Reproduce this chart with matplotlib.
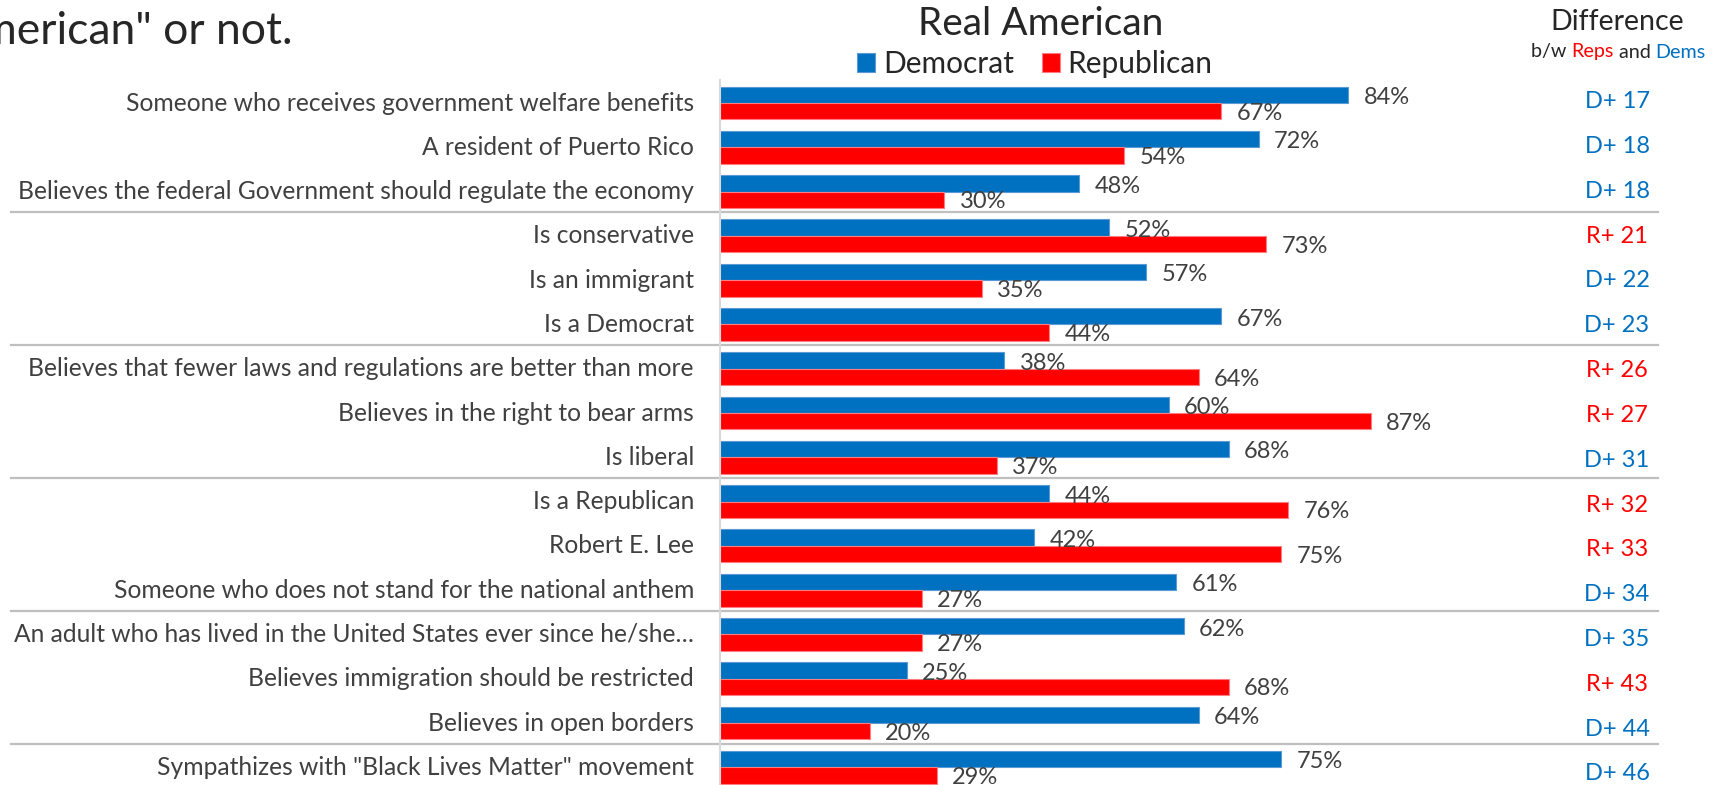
import matplotlib
matplotlib.use("Agg")
import matplotlib.pyplot as plt
from matplotlib.transforms import blended_transform_factory
import numpy as np

plt.rcParams['font.family'] = ['Lato', 'DejaVu Sans']

categories = [
    "Someone who receives government welfare benefits",
    "A resident of Puerto Rico",
    "Believes the federal Government should regulate the economy",
    "Is conservative",
    "Is an immigrant",
    "Is a Democrat",
    "Believes that fewer laws and regulations are better than more",
    "Believes in the right to bear arms",
    "Is liberal",
    "Is a Republican",
    "Robert E. Lee",
    "Someone who does not stand for the national anthem",
    "An adult who has lived in the United States ever since he/she\u2026",
    "Believes immigration should be restricted",
    "Believes in open borders",
    "Sympathizes with \"Black Lives Matter\" movement",
]
democrat = [84, 72, 48, 52, 57, 67, 38, 60, 68, 44, 42, 61, 62, 25, 64, 75]
republican = [67, 54, 30, 73, 35, 44, 64, 87, 37, 76, 75, 27, 27, 68, 20, 29]
group_ends = [3, 6, 9, 12, 15]

BLUE = '#0070C0'
RED = '#FF0000'
TXT = '#404040'
DARK = '#262626'

W, H = 1719, 785
fig = plt.figure(figsize=(W / 100, H / 100), dpi=100)
ax = fig.add_axes([720 / W, 0, 748 / W, 1 - 80 / H])
ax.set_xlim(0, 100)
ax.set_ylim(15.40, -0.52)

n = len(categories)
y = np.arange(n)
bh = 0.37
b_dem = ax.barh(y - bh / 2, democrat, height=bh, color=BLUE, edgecolor='#5B9BD5', linewidth=0.8, label='Democrat')
b_rep = ax.barh(y + bh / 2, republican, height=bh, color=RED, edgecolor='#FF7C80', linewidth=0.8, label='Republican')

for s in ['top', 'right', 'bottom']:
    ax.spines[s].set_visible(False)
ax.spines['left'].set_color('#D9D9D9')
ax.spines['left'].set_linewidth(1.5)
ax.set_xticks([])
ax.set_yticks([])

# value labels next to each bar
for i in range(n):
    ax.annotate(f'{democrat[i]}%', (democrat[i], y[i] - bh / 2), xytext=(11, -2),
                textcoords='offset points', va='center', ha='left', fontsize=17, color=TXT)
    ax.annotate(f'{republican[i]}%', (republican[i], y[i] + bh / 2), xytext=(11, -1.5),
                textcoords='offset points', va='center', ha='left', fontsize=17, color=TXT)

trans = blended_transform_factory(fig.transFigure, ax.transData)

# category names
for i, c in enumerate(categories):
    ax.text(694 / W, y[i], c, transform=trans, ha='right', va='center', fontsize=17.7, color=TXT)

# separators between groups of three
for g in group_ends:
    ax.plot([11 / W, 1658 / W], [g - 0.53, g - 0.53], transform=trans, clip_on=False,
            color='#BFBFBF', linewidth=1.6)

# difference column
for i in range(n):
    d = democrat[i] - republican[i]
    party, col = ('D', BLUE) if d > 0 else ('R', RED)
    ax.text(1617 / W, -0.03 + i * 1.012, f'{party}+ {abs(d)}', transform=trans,
            ha='center', va='center', fontsize=17, color=col)

# headers
fig.text(1041 / W, 1 - 24 / H, 'Real American', ha='center', va='center', fontsize=28, color=DARK)
fig.text(293 / W, 1 - 32 / H, 'American" or not.', ha='right', va='center', fontsize=32, color=DARK)
fig.text(1617 / W, 1 - 22 / H, 'Difference', ha='center', va='center', fontsize=20.5, color=DARK)

renderer = fig.canvas.get_renderer()
x0 = 1531
for piece, col in [('b/w ', DARK), ('Reps', RED), (' and ', DARK), ('Dems', BLUE)]:
    t = fig.text(x0 / W, 1 - 52 / H, piece, ha='left', va='center', fontsize=14.2, color=col)
    x0 = t.get_window_extent(renderer).x1

fig.legend(handles=[b_dem, b_rep], loc='center', bbox_to_anchor=(1035 / W, 1 - 64 / H), ncol=2,
           frameon=False, fontsize=21.5, handlelength=0.6, handleheight=0.6,
           handletextpad=0.25, columnspacing=0.95, labelcolor=DARK, borderpad=0.1)

fig.savefig('out.png', dpi=100)
